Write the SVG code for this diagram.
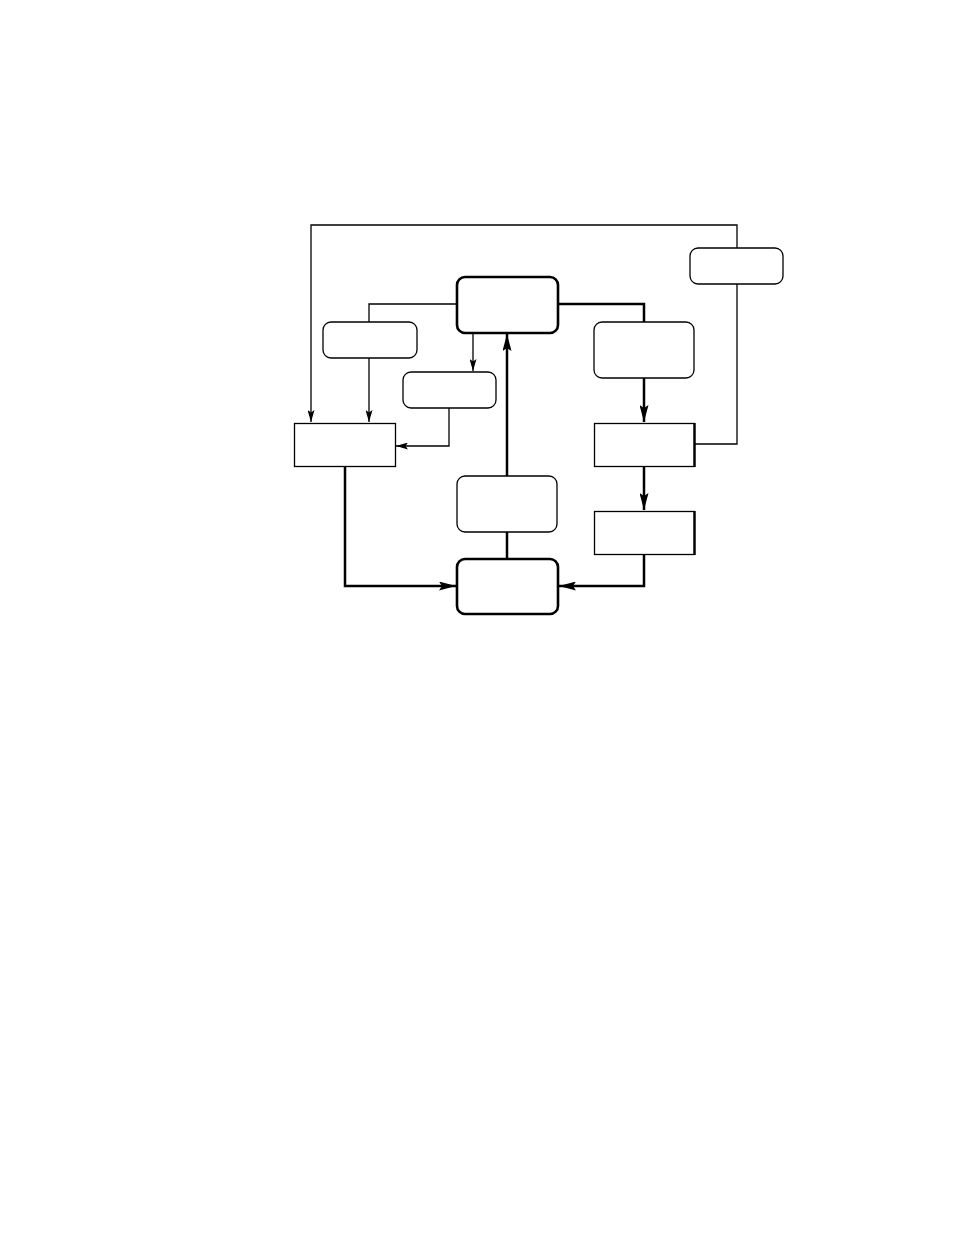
<svg xmlns="http://www.w3.org/2000/svg" width="954" height="1235" viewBox="0 0 954 1235">
<style>
.bg{fill:#fff}
.thin{fill:none;stroke:#000;stroke-width:1.3}
.thick{fill:none;stroke:#000;stroke-width:2.5}
.rb{fill:#fff;stroke:#000;stroke-width:1.3}
.rbk{fill:#fff;stroke:#000;stroke-width:2.6}
.sq{fill:#fff;stroke:#000;stroke-width:1.3}
.edge{stroke:#000;stroke-width:2.4}
</style>
<defs>
<marker id="aThin" markerUnits="userSpaceOnUse" markerWidth="13" markerHeight="7" refX="12" refY="3.5" orient="auto">
<path d="M0,0 L12,3.5 L0,7 L2.5,3.5 z" fill="#000"/>
</marker>
<marker id="aThick" markerUnits="userSpaceOnUse" markerWidth="18" markerHeight="9" refX="17" refY="4.5" orient="auto">
<path d="M0,0 L17,4.5 L0,9 L3,4.5 z" fill="#000"/>
</marker>
</defs>
<rect class="bg" x="0" y="0" width="954" height="1235"/>
<g id="connectors">
<path class="thin" d="M695,444 H737 V284"/>
<path class="thin" d="M737,248 V225 H311 V422" marker-end="url(#aThin)"/>
<path class="thin" d="M457,304 H369 V322"/>
<path class="thin" d="M369,358 V422" marker-end="url(#aThin)"/>
<path class="thin" d="M473,333 V371" marker-end="url(#aThin)"/>
<path class="thin" d="M449,408 V446 H396" marker-end="url(#aThin)"/>
<path class="thick" d="M507,476 V334" marker-end="url(#aThick)"/>
<path class="thick" d="M507,532 V559"/>
<path class="thick" d="M558,304 H644 V322"/>
<path class="thick" d="M644,378 V422" marker-end="url(#aThick)"/>
<path class="thick" d="M644,466 V510" marker-end="url(#aThick)"/>
<path class="thick" d="M644,554 V586 H559" marker-end="url(#aThick)"/>
<path class="thick" d="M345,466 V586 H456" marker-end="url(#aThick)"/>
</g>
<g id="top-center"><rect class="rbk" x="457" y="277" width="101" height="56" rx="8"/></g>
<g id="bottom-center"><rect class="rbk" x="457" y="559" width="101" height="55" rx="8"/></g>
<g id="mid-center"><rect class="rb" x="457" y="476" width="100" height="56" rx="8"/></g>
<g id="upper-left"><rect class="rb" x="323" y="322" width="94" height="36" rx="8"/></g>
<g id="small-center"><rect class="rb" x="403" y="372" width="93" height="36" rx="8"/></g>
<g id="left-rect"><rect class="sq" x="294.5" y="423.5" width="101" height="43"/></g>
<g id="top-right"><rect class="rb" x="690" y="248" width="93" height="36" rx="8"/></g>
<g id="right-rounded"><rect class="rb" x="594" y="322" width="100" height="56" rx="8"/></g>
<g id="right-rect-1"><rect class="sq" x="594.5" y="423.5" width="100" height="43"/><line class="edge" x1="694.5" y1="423" x2="694.5" y2="467"/></g>
<g id="right-rect-2"><rect class="sq" x="594.5" y="511.5" width="100" height="43"/><line class="edge" x1="694.5" y1="511" x2="694.5" y2="555"/></g>
</svg>
